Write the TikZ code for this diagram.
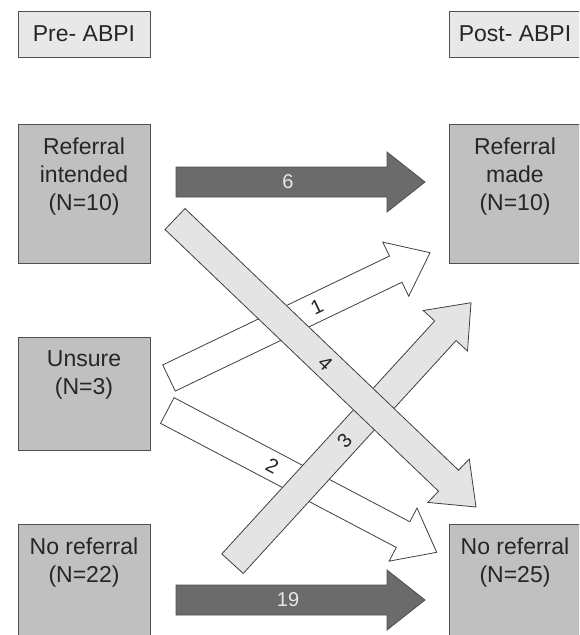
\documentclass[tikz,border=0pt]{standalone}
\usepackage{fontspec}
\setmainfont{Liberation Sans}
\usetikzlibrary{calc}
\definecolor{boxgray}{HTML}{C0C0C0}
\definecolor{hdrgray}{HTML}{E8E8E8}
\definecolor{edgegray}{HTML}{505050}
\definecolor{darkarrow}{HTML}{6B6B6B}
\definecolor{lightarrow}{HTML}{E4E4E4}
\definecolor{txt}{HTML}{262626}
\definecolor{lbllight}{HTML}{E8E8E8}
% #1 half shaft width, #2 style, #3 tail coordinate, #4 tip coordinate
\newcommand\blockarrow[4][15pt]{%
  \coordinate (hb) at ($(#4)!38pt!(#3)$);
  \filldraw[#2] ($(#3)!#1!90:(#4)$) -- ($(hb)!#1!90:(#4)$) -- ($(hb)!30pt!90:(#4)$) -- (#4)
    -- ($(hb)!30pt!-90:(#4)$) -- ($(hb)!#1!-90:(#4)$) -- ($(#3)!#1!-90:(#4)$) -- cycle;
}
\begin{document}
\begin{tikzpicture}[x=1pt,y=-1pt,
  hdr/.style={draw=edgegray, fill=hdrgray, line width=0.9pt, minimum width=132pt,
    minimum height=46pt, inner sep=0pt, text=txt, font=\fontsize{23}{28}\selectfont},
  mainbox/.style={draw=edgegray, fill=boxgray, line width=0.9pt, minimum width=132pt, inner sep=0pt},
  boxtext/.style={text=txt, font=\fontsize{23}{28}\selectfont, align=center, inner sep=0pt,
    anchor=north, yshift=-14pt},
  darkarr/.style={fill=darkarrow, draw=edgegray, line width=0.8pt},
  lightarr/.style={fill=lightarrow, draw=black!75, line width=0.8pt},
  whitearr/.style={fill=white, draw=black!75, line width=0.8pt},
  lbldark/.style={text=lbllight, font=\fontsize{20}{24}\selectfont, inner sep=0pt},
  lbl/.style={text=txt, font=\fontsize{20}{24}\selectfont, inner sep=0pt, sloped}
]
\useasboundingbox (0,0) rectangle (579,635);
\clip (0,0) rectangle (579,635);
\fill[white] (0,0) rectangle (579,635);

% header boxes
\node[hdr] (pre) at (84,34) {Pre- ABPI};
\node[hdr] (post) at (515,34) {Post- ABPI};

% main boxes
\node[mainbox, minimum height=139pt] (ri) at (84,193.5)
  {} ;
\node[boxtext] (ritxt) at (ri.north) {Referral\\intended\\(N=10)};
\node[mainbox, minimum height=139pt] (rm) at (515,193.5) {};
\node[boxtext] (rmtxt) at (rm.north) {Referral\\made\\(N=10)};
\node[mainbox, minimum height=113pt] (un) at (84,393.5) {};
\node[boxtext] (untxt) at (un.north) {Unsure\\(N=3)};
\node[mainbox, minimum height=139pt] (nl) at (84,593.5) {};
\node[boxtext] (nltxt) at (nl.north) {No referral\\(N=22)};
\node[mainbox, minimum height=139pt] (nr) at (515,593.5) {};
\node[boxtext] (nrtxt) at (nr.north) {No referral\\(N=25)};

% arrow end points
\coordinate (t6) at (176,182);   \coordinate (p6) at (425,182);
\coordinate (t19) at (176,600);  \coordinate (p19) at (425,600);
\coordinate (t2) at (167.3,410.5); \coordinate (p2) at (436.7,552.3);
\coordinate (t1) at (169,378);   \coordinate (p1) at (430,252.7);
\coordinate (t3) at (232.5,563.7); \coordinate (p3) at (471,302.7);
\coordinate (t4) at (175,219);   \coordinate (p4) at (476,507);

% horizontal dark arrows
\blockarrow[15pt]{darkarr}{t6}{p6}
\path (t6) -- (p6) node[lbldark, pos=0.45] (l6) {6};
\blockarrow[15pt]{darkarr}{t19}{p19}
\path (t19) -- (p19) node[lbldark, pos=0.45] (l19) {19};

% diagonal arrows (bottom to top)
\blockarrow[14.5pt]{whitearr}{t2}{p2}
\path (t2) -- (p2) node[lbl, pos=0.39] (l2) {2};
\blockarrow[14.5pt]{whitearr}{t1}{p1}
\path (t1) -- (p1) node[lbl, pos=0.567] (l1) {1};
\blockarrow[14.5pt]{lightarr}{t3}{p3}
\path (t3) -- (p3) node[lbl, pos=0.47] (l3) {3};
\blockarrow[14.5pt]{lightarr}{t4}{p4}
\path (t4) -- (p4) node[lbl, pos=0.5] (l4) {4};
\end{tikzpicture}
\end{document}
